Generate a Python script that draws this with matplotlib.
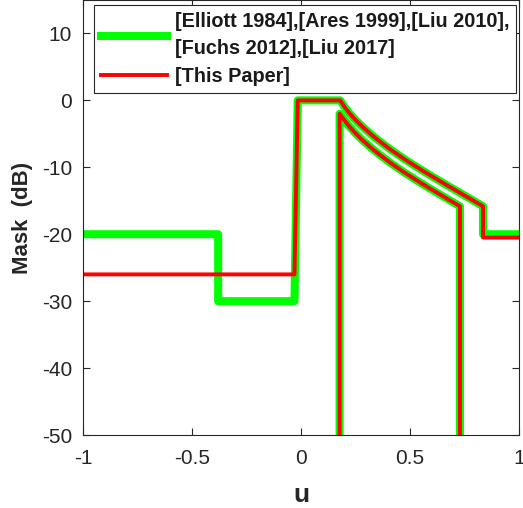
'''
Mask comparison plot: literature masks vs. the mask of this paper.
'''
import matplotlib.pyplot as plt

plt.rcParams['font.family'] = ['Liberation Sans', 'DejaVu Sans']

# Shared curved part of the mask (upper branch).
u_curve = [0.18, 0.20, 0.22, 0.25, 0.28, 0.32, 0.36, 0.41, 0.47, 0.53,
           0.59, 0.66, 0.73, 0.78, 0.835]
m_curve = [0.0, -1.0, -1.84, -2.92, -3.88, -5.04, -6.1, -7.33, -8.68, -9.94,
           -11.14, -12.5, -13.83, -14.78, -15.83]

# Literature mask (green): left steps, main lobe, curve, right floor.
u_lit = [-1.0, -0.38, -0.38, -0.03, -0.015] + u_curve + [0.835, 1.0]
m_lit = [-20.0, -20.0, -30.0, -30.0, 0.0] + m_curve + [-20.0, -20.0]

# This paper (red): single floor on the left, same curve, lower right floor.
u_new = [-1.0, -0.03, -0.015] + u_curve + [0.835, 1.0]
m_new = [-26.0, -26.0, 0.0] + m_curve + [-20.5, -20.5]

# Lower branch, same for both masks (2 dB under the upper one).
u_low = [0.177, 0.177, 0.20, 0.22, 0.25, 0.28, 0.32, 0.36, 0.41, 0.47,
         0.53, 0.59, 0.66, 0.729, 0.729]
m_low = [-50.0, -2.0, -3.0, -3.84, -4.92, -5.88, -7.04, -8.1, -9.33, -10.68,
         -11.94, -13.14, -14.5, -15.83, -50.0]

lab_lit = '[Elliott 1984],[Ares 1999],[Liu 2010],\n[Fuchs 2012],[Liu 2017]'
lab_new = '[This Paper]'

fig = plt.figure(figsize=(5.23, 5.08), dpi=100)
ax = fig.add_axes([0.1587, 0.1437, 0.8337, 0.8563])

green = (0, 1, 0)
red = (1, 0, 0)

h1, = ax.plot(u_lit, m_lit, color=green, lw=5.8, solid_joinstyle='round',
              label=lab_lit)
ax.plot(u_low, m_low, color=green, lw=5.8, solid_joinstyle='round')
h2, = ax.plot(u_new, m_new, color=red, lw=2.8, label=lab_new)
ax.plot(u_low, m_low, color=red, lw=2.8)

ax.set_xlim(-1, 1)
ax.set_ylim(-50, 15)
ax.set_xticks([-1, -0.5, 0, 0.5, 1])
ax.set_xticklabels(['-1', '-0.5', '0', '0.5', '1'])
ax.set_yticks([-50, -40, -30, -20, -10, 0, 10])
ax.set_yticklabels(['-50', '-40', '-30', '-20', '-10', '0', '10'])

ax.tick_params(direction='in', top=True, right=True, length=5, width=0.8,
               colors='#262626', labelsize=15, pad=8)
ax.tick_params(axis='x', pad=10)
for sp in ax.spines.values():
    sp.set_color('#262626')
    sp.set_linewidth(0.8)

ax.set_xlabel('u', fontsize=19, fontweight='bold', color='#262626',
              labelpad=11)
ax.set_ylabel('Mask  (dB)', fontsize=16, fontweight='bold', color='#262626',
              labelpad=6)

leg = ax.legend(handles=[h1, h2], loc='upper right',
                bbox_to_anchor=(0.993, 0.9885),
                prop={'weight': 'bold', 'size': 14.3},
                handlelength=3.3, handletextpad=0.4, borderpad=0.35,
                labelspacing=0.45, borderaxespad=0, fancybox=False,
                framealpha=1, edgecolor='#262626')
leg.get_frame().set_linewidth(0.8)
for t in leg.get_texts():
    t.set_color('#1a1a1a')
    t.set_linespacing(1.55)

plt.savefig('out.png', dpi=100)
